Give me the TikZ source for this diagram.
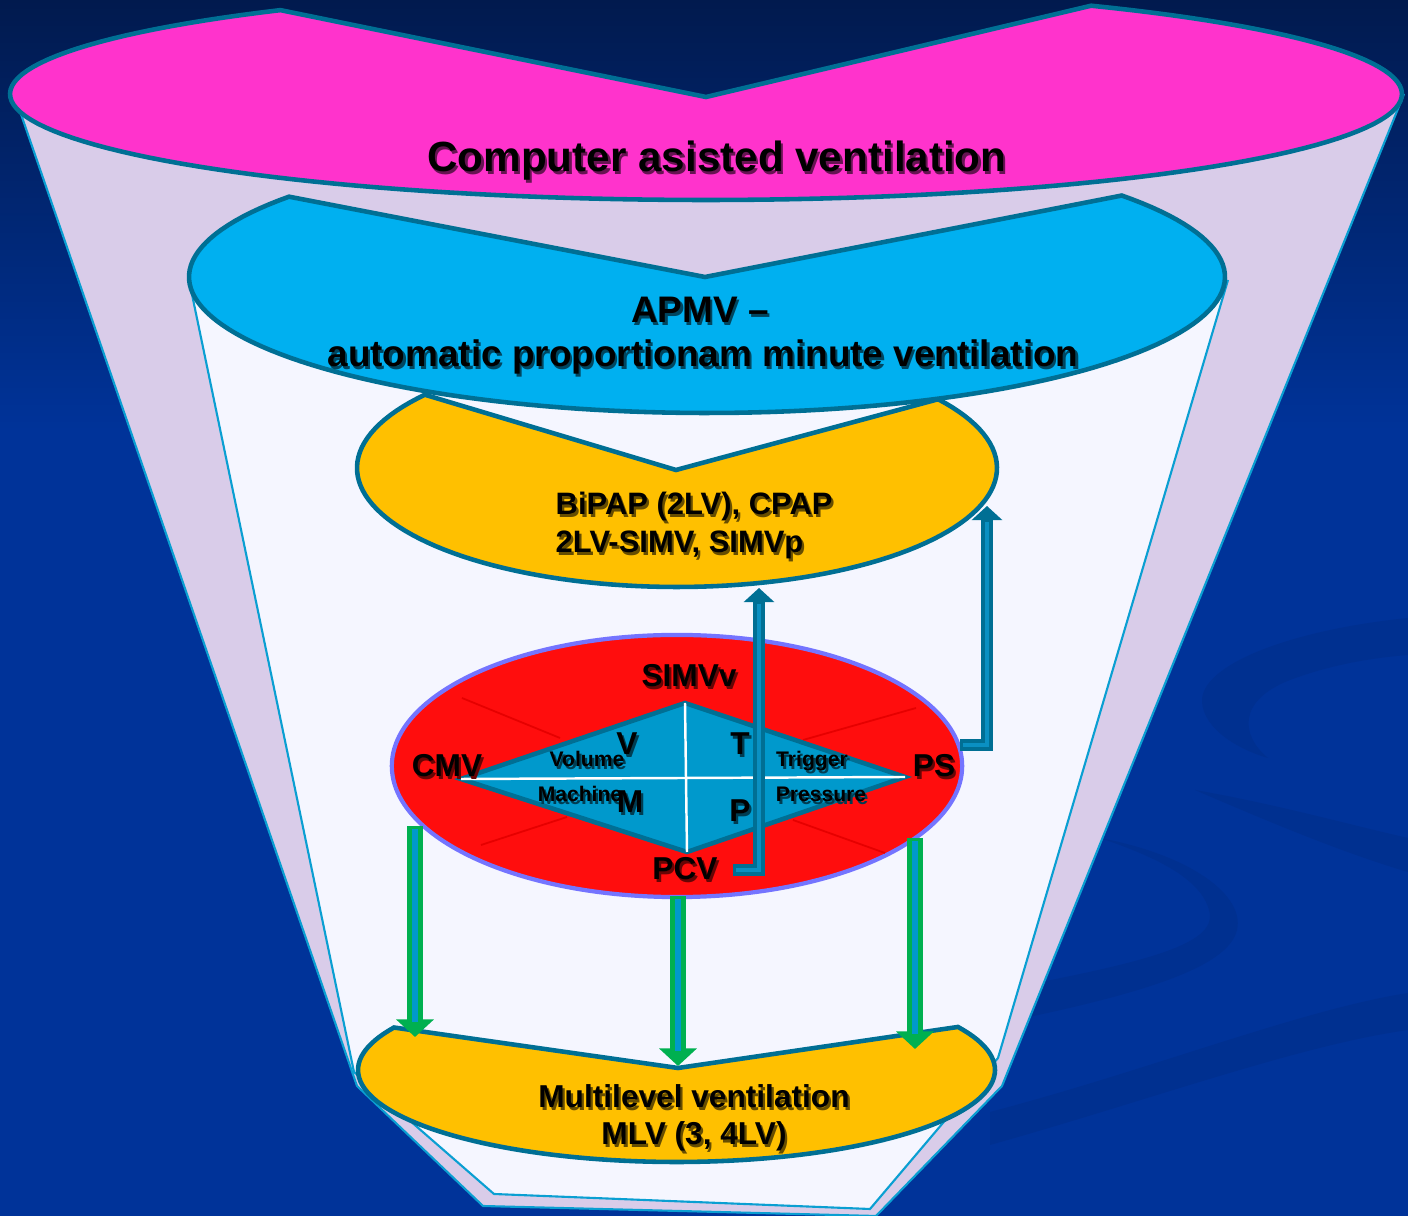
\documentclass[tikz,border=0pt]{standalone}
\usepackage{fontspec}
\setmainfont{Liberation Sans}
\usetikzlibrary{arrows.meta,calc,shapes.geometric}
\definecolor{bgtop}{HTML}{011A4E}
\definecolor{bgblue}{HTML}{003399}
\definecolor{swirlc}{HTML}{003090}
\definecolor{lavc}{HTML}{D9CCE9}
\definecolor{innerc}{HTML}{F5F6FF}
\definecolor{funnelline}{HTML}{0A9FD2}
\definecolor{edgec}{HTML}{006F94}
\definecolor{pinkc}{HTML}{FF33CC}
\definecolor{cyanc}{HTML}{00B0F0}
\definecolor{yellc}{HTML}{FFC000}
\definecolor{redc}{HTML}{FF0D0D}
\definecolor{redline}{HTML}{7474FF}
\definecolor{redfaint}{HTML}{E60000}
\definecolor{diamc}{HTML}{0099CC}
\definecolor{arrowdark}{HTML}{006F94}
\definecolor{arrowlight}{HTML}{0A90C2}
\definecolor{greenc}{HTML}{00B050}
\definecolor{stripec}{HTML}{0099CC}
\newcommand\fCAV{\fontsize{12}{14}\selectfont\bfseries}
\newcommand\fAP{\fontsize{10.5}{12.5}\selectfont\bfseries}
\newcommand\fBI{\fontsize{8.8}{10.5}\selectfont\bfseries}
\newcommand\fML{\fontsize{9}{11}\selectfont\bfseries}
\newcommand\fMO{\fontsize{9}{11}\selectfont\bfseries}
\newcommand\fSM{\fontsize{6}{7}\selectfont\bfseries}
% name, position, anchor, font, background colour, text
\newcommand\shtext[6]{%
  \node[txt, anchor=#3, font=#4] (#1) at #2 {\rlap{\kern0.63pt\raisebox{-0.63pt}{\color{black!60!#5}#6}}#6};}
\tikzset{
 shapeedge/.style={draw=edgec, line width=1.3pt},
 funneledge/.style={draw=funnelline, line width=0.6pt},
 bluearrow/.style={draw=arrowdark, line width=3.4pt, -{Triangle[width=8.5pt,length=4pt]}},
 bluestripe/.style={draw=arrowlight, line width=1.1pt},
 greenarrow/.style={draw=greenc, line width=4.3pt, -{Triangle[width=10.5pt,length=5pt]}},
 greenstripe/.style={draw=stripec, line width=1.7pt},
 txt/.style={inner sep=0pt, text=black},
}
\begin{document}
\begin{tikzpicture}[x=0.01cm,y=-0.01cm,line join=miter]
\useasboundingbox (0,0) rectangle (1408,1216);
\begin{scope}
\clip (0,0) rectangle (1408,1216);
% background
\fill[bgblue] (0,0) rectangle (1408,1216);
\shade[top color=bgtop, bottom color=bgblue] (0,0) rectangle (1408,430);
% swirls
\fill[swirlc] (1408,618) .. controls (1290,630) and (1200,665) .. (1202,702) .. controls (1204,730) and (1240,750) .. (1268,758) .. controls (1240,735) and (1238,700) .. (1290,680) .. controls (1330,665) and (1370,658) .. (1408,655) -- cycle;
\fill[swirlc] (1195,790) .. controls (1280,805) and (1350,825) .. (1408,838) -- (1408,872) .. controls (1340,852) and (1260,818) .. (1195,790) -- cycle;
\fill[swirlc] (1100,838) .. controls (1190,855) and (1245,895) .. (1237,930) .. controls (1228,968) and (1140,995) .. (990,1025) -- (990,992) .. controls (1130,965) and (1212,948) .. (1210,915) .. controls (1205,878) and (1150,855) .. (1100,838) -- cycle;
\fill[swirlc] (990,1112) .. controls (1150,1070) and (1300,1010) .. (1408,993) -- (1408,1030) .. controls (1300,1045) and (1150,1100) .. (990,1145) -- cycle;
% outer funnel
\fill[lavc] (14,94) -- (357,1086) -- (483,1206) -- (876,1216) -- (1002,1086) -- (1404,94) -- (706,150) -- cycle;
\draw[funneledge] (14,94) -- (357,1086) -- (483,1206) -- (876,1216) -- (1002,1086) -- (1404,94);
\end{scope}
% pink top
\filldraw[fill=pinkc, shapeedge] plot[domain=-56.4:232.3, samples=140] ({706+696*cos(\x)},{94+106*sin(\x)}) -- (706,97) -- cycle;
% inner funnel
\fill[innerc] (189,280) -- (354,1072) -- (494,1194) -- (870,1209) -- (998,1058) -- (1228,280) -- (707,330) -- cycle;
\draw[funneledge] (189,280) -- (354,1072) -- (494,1194) -- (870,1209) -- (998,1058) -- (1228,280);
% yellow BiPAP
\filldraw[fill=yellc, shapeedge] plot[domain=-35.3:218, samples=110] ({677+320*cos(\x)},{468+119*sin(\x)}) -- (676,470) -- cycle;
% blue APMV
\filldraw[fill=cyanc, shapeedge] plot[domain=-36.8:216.2, samples=130] ({707+518*cos(\x)},{277+136*sin(\x)}) -- (705,277) -- cycle;
% bottom banana
\filldraw[fill=yellc, shapeedge] plot[domain=-27.9:207.5, samples=110] ({676.5+318.5*cos(\x)},{1070+92*sin(\x)}) -- (678,1068) -- cycle;
% red ellipse
\node[ellipse, fill=redc, draw=redline, line width=1.2pt, minimum width=5.7cm, minimum height=2.62cm, inner sep=0pt] (modes) at (677,766) {};
\draw[redfaint, line width=0.5pt] (462,698) -- (560,738) (916,708) -- (803,740) (481,845) -- (567,817) (885,853) -- (793,820);
% diamond
\coordinate (dT) at (685,703);
\coordinate (dL) at (461,779);
\coordinate (dR) at (905,777);
\coordinate (dB) at (687,852);
\filldraw[fill=diamc, draw=edgec, line width=1.3pt] (dT) -- (dR) -- (dB) -- (dL) -- cycle;
\draw[white, line width=0.7pt] (dL) -- (dR) (dT) -- (dB);
% texts
\shtext{cav}{(717,172)}{base}{\fCAV}{pinkc}{Computer asisted ventilation}
\shtext{apmv1}{(700,323)}{base}{\fAP}{cyanc}{APMV --}
\shtext{apmv2}{(703,367)}{base}{\fAP}{cyanc}{automatic proportionam minute ventilation}
\shtext{bip1}{(555,515)}{base west}{\fBI}{yellc}{BiPAP (2LV), CPAP}
\shtext{bip2}{(555,553)}{base west}{\fBI}{yellc}{2LV-SIMV, SIMVp}
\shtext{mlv1}{(694,1108)}{base}{\fML}{yellc}{Multilevel ventilation}
\shtext{mlv2}{(694,1145)}{base}{\fML}{yellc}{MLV (3, 4LV)}
\shtext{vol}{(587,767)}{base}{\fSM}{diamc}{Volume}
\shtext{mach}{(580,802)}{base}{\fSM}{diamc}{Machine}
\shtext{trig}{(812,767)}{base}{\fSM}{diamc}{Trigger}
\shtext{pres}{(821,802)}{base}{\fSM}{diamc}{Pressure}
\shtext{simvv}{(689,687)}{base}{\fMO}{redc}{SIMVv}
\shtext{cmv}{(447,777)}{base}{\fMO}{redc}{CMV}
\shtext{ps}{(934,777)}{base}{\fMO}{redc}{PS}
\shtext{pcv}{(685,880)}{base}{\fMO}{redc}{PCV}
\shtext{lv}{(627,755)}{base}{\fMO}{diamc}{V}
\shtext{lt}{(740,755)}{base}{\fMO}{diamc}{T}
\shtext{lm}{(630,813)}{base}{\fMO}{diamc}{M}
\shtext{lp}{(740,822)}{base}{\fMO}{diamc}{P}
% blue arrows
\coordinate (pcvA) at (733,870);
\coordinate (pcvB) at (759,870);
\coordinate (bipIn) at (759,588);
\draw[bluearrow] (pcvA) -- (pcvB) -- (bipIn);
\draw[bluestripe] ($(pcvA)+(3,0)$) -- (pcvB) -- ($(bipIn)+(0,16)$);
\coordinate (psA) at (960,745);
\coordinate (psB) at (987,745);
\coordinate (bipIn2) at (987,506);
\draw[bluearrow] (psA) -- (psB) -- (bipIn2);
\draw[bluestripe] ($(psA)+(3,0)$) -- (psB) -- ($(bipIn2)+(0,16)$);
% green arrows
\coordinate (g1a) at (415,826);
\coordinate (g1b) at (415,1037);
\coordinate (g2a) at (678,896);
\coordinate (g2b) at (678,1066);
\coordinate (g3a) at (915,838);
\coordinate (g3b) at (915,1049);
\draw[greenarrow] (g1a) -- (g1b);
\draw[greenstripe] ($(g1a)+(0,3)$) -- ($(g1b)+(0,-15)$);
\draw[greenarrow] (g2a) -- (g2b);
\draw[greenstripe] ($(g2a)+(0,3)$) -- ($(g2b)+(0,-15)$);
\draw[greenarrow] (g3a) -- (g3b);
\draw[greenstripe] ($(g3a)+(0,3)$) -- ($(g3b)+(0,-15)$);
\end{tikzpicture}
\end{document}
